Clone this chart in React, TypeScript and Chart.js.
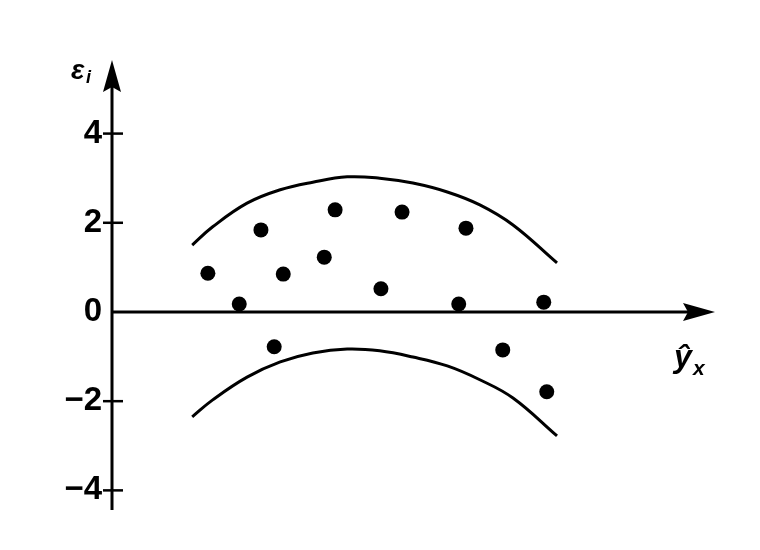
import React, { useEffect, useRef } from "react";
import { Chart, registerables } from "chart.js";

Chart.register(...registerables);

// Residual points (ŷx, εi)
const pointX = [1.59, 2.11, 2.47, 2.84, 3.52, 3.70, 4.46, 4.81, 5.75, 5.87, 7.16, 2.69, 6.48, 7.21];
const pointY = [0.87, 0.18, 1.84, 0.85, 1.23, 2.29, 0.52, 2.24, 0.18, 1.88, 0.22, -0.78, -0.85, -1.79];

// Band curves
const curveX = [1.33, 1.67, 2.24, 2.79, 3.33, 3.90, 4.44, 4.99, 5.56, 6.10, 6.65, 7.38];
const upperY = [1.50, 1.91, 2.44, 2.74, 2.91, 3.03, 3.00, 2.89, 2.69, 2.40, 1.95, 1.10];
const lowerY = [-2.35, -1.97, -1.46, -1.12, -0.92, -0.83, -0.87, -1.01, -1.21, -1.52, -1.93, -2.78];

const yTicks = [4, 2, 0, -2, -4];
const yTickLabels = ["4", "2", "0", "\u22122", "\u22124"];

const X_MIN = 0;
const X_MAX = 10;
const Y_MIN = -4.44;
const Y_MAX = 5.65;

const axesPlugin = {
  id: "customAxes",
  afterDraw(chart: any) {
    const ctx = chart.ctx as CanvasRenderingContext2D;
    const xs = chart.scales.x;
    const ys = chart.scales.y;
    const x0 = xs.getPixelForValue(0);
    const y0 = ys.getPixelForValue(0);
    const top = ys.getPixelForValue(Y_MAX);
    const bottom = ys.getPixelForValue(Y_MIN);
    const right = xs.getPixelForValue(X_MAX);
    ctx.save();
    ctx.strokeStyle = "#000";
    ctx.fillStyle = "#000";
    ctx.lineWidth = 3;
    // y axis
    ctx.beginPath();
    ctx.moveTo(x0, bottom);
    ctx.lineTo(x0, top + 20);
    ctx.stroke();
    // y arrow
    ctx.beginPath();
    ctx.moveTo(x0, top);
    ctx.lineTo(x0 + 9, top + 32);
    ctx.lineTo(x0, top + 27);
    ctx.lineTo(x0 - 9, top + 32);
    ctx.closePath();
    ctx.fill();
    // x axis
    ctx.beginPath();
    ctx.moveTo(x0, y0);
    ctx.lineTo(right - 20, y0);
    ctx.stroke();
    ctx.beginPath();
    ctx.moveTo(right, y0);
    ctx.lineTo(right - 32, y0 - 9);
    ctx.lineTo(right - 27, y0);
    ctx.lineTo(right - 32, y0 + 9);
    ctx.closePath();
    ctx.fill();
    // ticks and labels
    ctx.font = "bold 33px 'Liberation Sans', Arial, sans-serif";
    ctx.textAlign = "right";
    ctx.textBaseline = "middle";
    yTicks.forEach((v, i) => {
      const py = ys.getPixelForValue(v);
      if (v !== 0) {
        ctx.lineWidth = 2.5;
        ctx.beginPath();
        ctx.moveTo(x0 - 9, py);
        ctx.lineTo(x0 + 11, py);
        ctx.stroke();
      }
      ctx.fillText(yTickLabels[i], x0 - 10, py);
    });
    // axis titles
    ctx.textAlign = "left";
    ctx.textBaseline = "alphabetic";
    ctx.font = "bold italic 28px 'Liberation Sans', Arial, sans-serif";
    ctx.fillText("\u03b5", 71, 79);
    ctx.font = "bold italic 18px 'Liberation Sans', Arial, sans-serif";
    ctx.fillText("i", 86, 83);
    ctx.font = "bold italic 32px 'Liberation Sans', Arial, sans-serif";
    ctx.fillText("\u0177", 674, 367);
    ctx.font = "bold italic 21px 'Liberation Sans', Arial, sans-serif";
    ctx.fillText("x", 693, 375);
    ctx.restore();
  },
};

export default function App() {
  const ref = useRef<HTMLCanvasElement | null>(null);
  useEffect(() => {
    if (!ref.current) return;
    const chart = new Chart(ref.current, {
      type: "scatter",
      data: {
        datasets: [
          {
            label: "upper",
            data: curveX.map((x, i) => ({ x, y: upperY[i] })),
            showLine: true,
            borderColor: "#000",
            borderWidth: 3,
            pointRadius: 0,
            tension: 0.4,
          },
          {
            label: "lower",
            data: curveX.map((x, i) => ({ x, y: lowerY[i] })),
            showLine: true,
            borderColor: "#000",
            borderWidth: 3,
            pointRadius: 0,
            tension: 0.4,
          },
          {
            label: "residuals",
            data: pointX.map((x, i) => ({ x, y: pointY[i] })),
            showLine: false,
            backgroundColor: "#000",
            borderColor: "#000",
            pointRadius: 7.5,
            borderWidth: 0,
          },
        ],
      },
      options: {
        responsive: false,
        animation: false,
        layout: { padding: { left: 112, right: 45, top: 60, bottom: 40 } },
        plugins: { legend: { display: false }, tooltip: { enabled: false } },
        scales: {
          x: { type: "linear", min: X_MIN, max: X_MAX, display: false },
          y: { type: "linear", min: Y_MIN, max: Y_MAX, display: false },
        },
      },
      plugins: [axesPlugin],
    });
    return () => chart.destroy();
  }, []);
  return (
    <div style={{ position: "absolute", left: 0, top: 0, width: 760, height: 550, background: "#fff" }}>
      <canvas ref={ref} width={760} height={550} />
    </div>
  );
}
